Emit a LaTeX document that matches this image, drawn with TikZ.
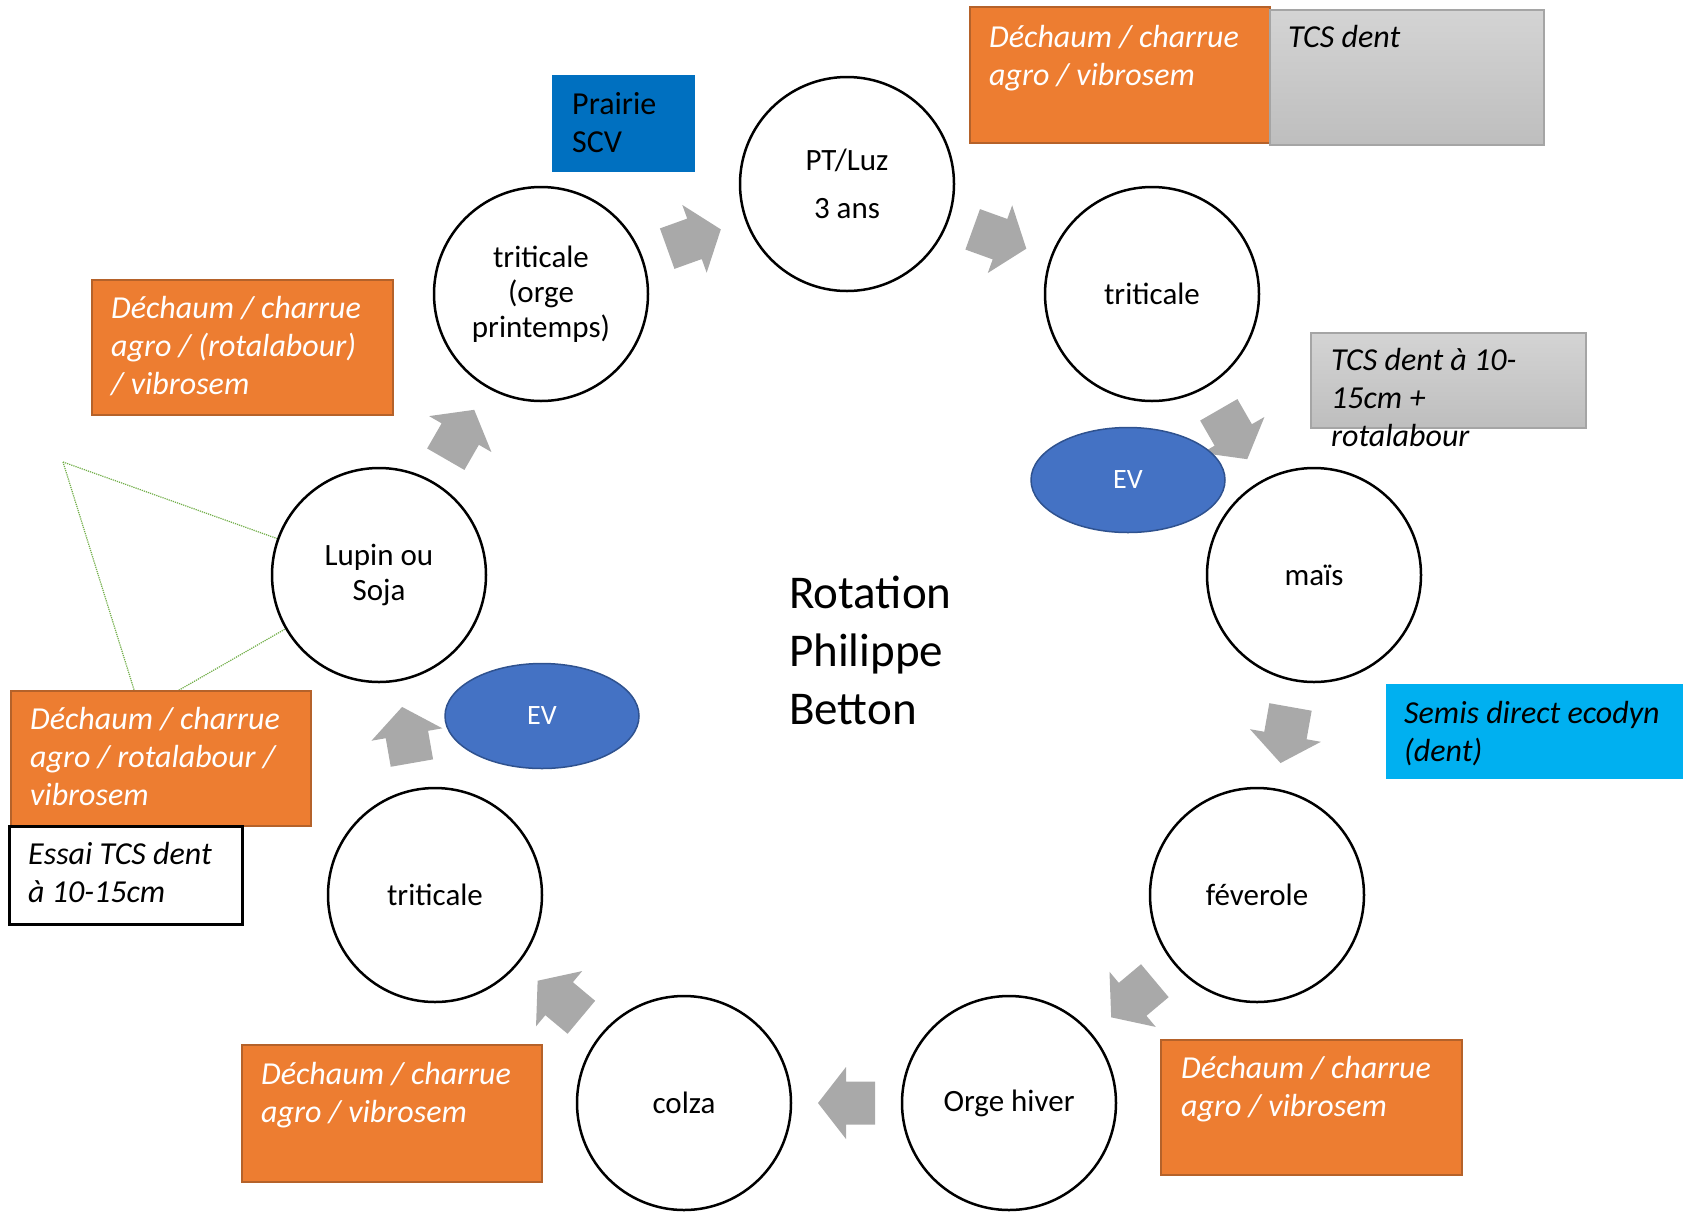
\documentclass[tikz,border=0pt]{standalone}
\usepackage{fontspec}
\setmainfont{Carlito}
\usetikzlibrary{shapes.geometric,calc,backgrounds}
\definecolor{orangeb}{HTML}{ED7D31}
\definecolor{orangebord}{HTML}{B5622A}
\definecolor{bleuev}{HTML}{4472C4}
\definecolor{bleuevbord}{HTML}{2F528F}
\definecolor{bleuprairie}{HTML}{0070C0}
\definecolor{cyanb}{HTML}{00B0F0}
\definecolor{grisfleche}{HTML}{A9A9A9}
\definecolor{grishaut}{HTML}{D4D4D4}
\definecolor{grisbas}{HTML}{BEBEBE}
\definecolor{grisbord}{HTML}{A5A5A5}
\definecolor{vert}{HTML}{70AD47}

\begin{document}
\begin{tikzpicture}[x=1pt, y=-1pt,
  culture/.style={circle, draw, line width=2.5pt, fill=white, minimum size=214pt, inner sep=0pt, align=center, font=\fontsize{31}{35}\selectfont},
  ev/.style={ellipse, draw=bleuevbord, line width=1.5pt, fill=bleuev, text=white, minimum width=194pt, minimum height=105pt, inner sep=0pt, font=\fontsize{28}{34}\selectfont},
  boite/.style={rectangle, anchor=north west, inner sep=0pt},
  travail/.style={boite, fill=orangeb, draw=orangebord, line width=2pt},
  tcs/.style={boite, top color=grishaut, bottom color=grisbas, draw=grisbord, line width=1.5pt},
  texte/.style={anchor=base west, inner sep=0pt, text width=300pt, align=flush left, font=\fontsize{32}{38}\selectfont\itshape},
  fleche/.pic={\fill[grisfleche] (-28.5,-21.5) -- (0.5,-21.5) -- (0.5,-36) -- (28.5,0) -- (0.5,36) -- (0.5,21.5) -- (-28.5,21.5) -- cycle;}]
  \useasboundingbox (0,0) rectangle (1683,1211);

  \node[culture, font=\fontsize{31}{48}\selectfont] (ptluz) at (847,184) {PT/Luz\\3 ans};
  \node[culture] (trihaut) at (1152,294) {triticale};
  \node[culture] (mais) at (1314,575) {maïs};
  \node[culture] (feverole) at (1257,895) {féverole};
  \node[culture] (orge) at (1009,1103) {Orge hiver};
  \node[culture] (colza) at (684,1103) {colza};
  \node[culture] (tribas) at (435,895) {triticale};
  \node[culture] (lupin) at (379,575) {Lupin ou\\Soja};
  \node[culture] (triorge) at (541,294) {triticale\\(orge\\printemps)};

  \node[ev] (evdroite) at (1128,480) {EV};
  \node[ev] (evgauche) at (542,716) {EV};

  \node[texte, font=\fontsize{47}{58}\selectfont] (titre) at (789,608) {Rotation\\Philippe\\Betton};

  \node[boite, fill=bleuprairie, minimum width=143pt, minimum height=97pt] (prairie) at (552,75) {};
  \node[texte, font=\fontsize{32}{38}\selectfont] (prairiet) at ([shift={(20,39)}]prairie.north west) {Prairie\\SCV};

  \node[travail, minimum width=300pt, minimum height=136pt] (dechhaut) at (969,6) {};
  \node[texte, text=white] (dechhautt) at ([shift={(20,41)}]dechhaut.north west) {Déchaum / charrue\\agro / vibrosem};
  \node[tcs, minimum width=274pt, minimum height=135pt] (tcsdent) at (1269,9) {};
  \node[texte] (tcsdentt) at ([shift={(19,38)}]tcsdent.north west) {TCS dent};

  \node[travail, minimum width=301pt, minimum height=135pt] (dechgauche) at (91,279) {};
  \node[texte, text=white] (dechgauchet) at ([shift={(20,39)}]dechgauche.north west) {Déchaum / charrue\\agro / (rotalabour)\\/ vibrosem};

  \node[tcs, minimum width=275pt, minimum height=95pt] (tcsrota) at (1310,332) {};
  \node[texte] (tcsrotat) at ([shift={(21,38)}]tcsrota.north west) {TCS dent à 10-\\15cm +\\rotalabour};

  \node[boite, fill=cyanb, minimum width=297pt, minimum height=95pt] (semis) at (1386,684) {};
  \node[texte] (semist) at ([shift={(18,39)}]semis.north west) {Semis direct ecodyn\\(dent)};

  \node[travail, minimum width=300pt, minimum height=135pt] (dechlupin) at (10,690) {};
  \node[texte, text=white] (dechlupint) at ([shift={(20,39)}]dechlupin.north west) {Déchaum / charrue\\agro / rotalabour /\\vibrosem};
  \node[boite, fill=white, draw, line width=2.5pt, minimum width=233pt, minimum height=98pt] (essai) at (8,825) {};
  \node[texte] (essait) at ([shift={(20,39)}]essai.north west) {Essai TCS dent\\à 10-15cm};

  \node[travail, minimum width=300pt, minimum height=137pt] (dechcolza) at (241,1044) {};
  \node[texte, text=white] (dechcolzat) at ([shift={(20,40)}]dechcolza.north west) {Déchaum / charrue\\agro / vibrosem};

  \node[travail, minimum width=301pt, minimum height=135pt] (dechorge) at (1160,1039) {};
  \node[texte, text=white] (dechorget) at ([shift={(21,39)}]dechorge.north west) {Déchaum / charrue\\agro / vibrosem};

  \coordinate (pointe) at (63,462);
  \coordinate (coin) at (141,712);

  \begin{scope}[on background layer]
    \draw[vert, densely dotted, line width=1.2pt] (pointe) -- (lupin.center) -- (coin) -- cycle;
    \foreach \a/\b in {lupin/triorge, triorge/ptluz, ptluz/trihaut, trihaut/mais, mais/feverole, feverole/orge, orge/colza, colza/tribas, tribas/lupin}
      \path let \p1=($(\b)-(\a)$), \n1={atan2(\y1,\x1)} in ($(\a)!0.5!(\b)$) pic[rotate=\n1] {fleche};
  \end{scope}
\end{tikzpicture}
\end{document}
